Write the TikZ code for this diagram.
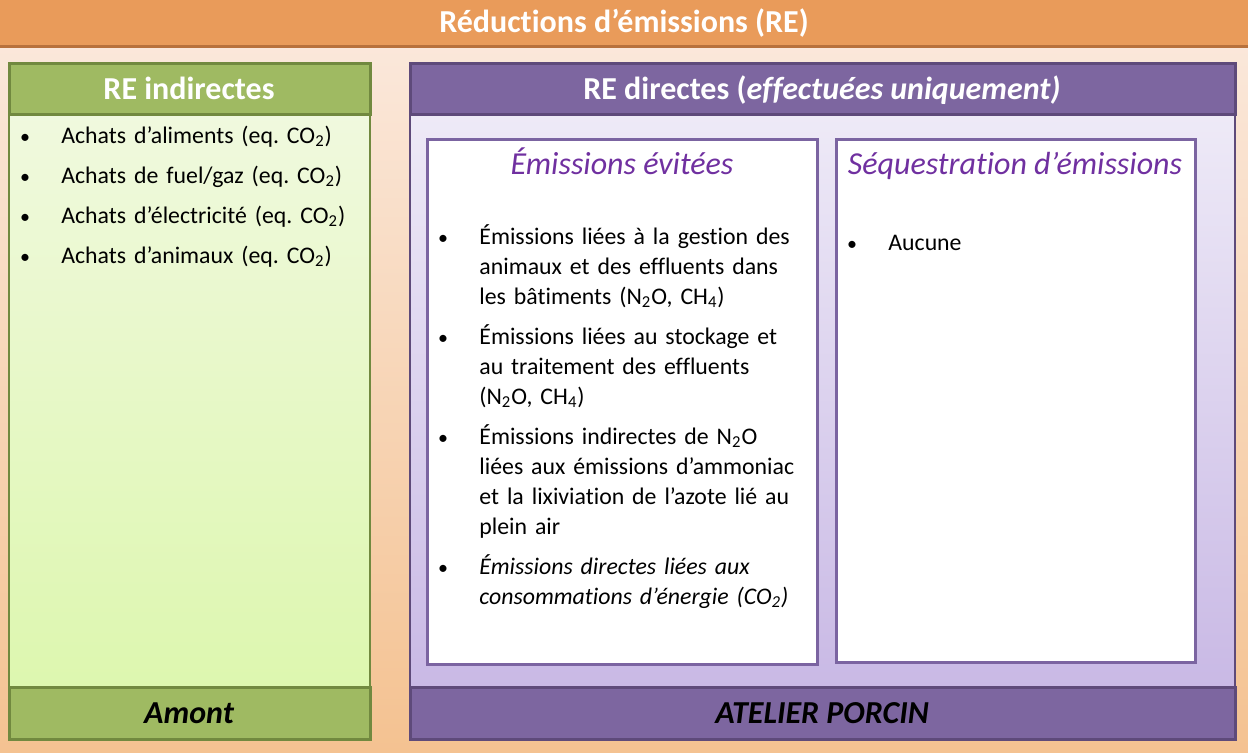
\documentclass[tikz,border=0pt]{standalone}
\usepackage{fontspec}
\setmainfont{Carlito}[Ligatures={NoCommon}]
\frenchspacing

\definecolor{fondhaut}{HTML}{FBEADF}
\definecolor{fondbas}{HTML}{F4C291}
\definecolor{orangehd}{HTML}{E99B5A}
\definecolor{orangeln}{HTML}{B8713C}
\definecolor{vert}{HTML}{9FBA62}
\definecolor{vertln}{HTML}{71893F}
\definecolor{verthaut}{HTML}{F0F9DE}
\definecolor{vertbas}{HTML}{DDF7AF}
\definecolor{violet}{HTML}{7D66A0}
\definecolor{violetln}{HTML}{5E4A7A}
\definecolor{lavhaut}{HTML}{EEEAF7}
\definecolor{lavbas}{HTML}{C9B9E5}
\definecolor{cadre}{HTML}{7B64A1}
\definecolor{titreviolet}{HTML}{7030A0}

\begin{document}
\begin{tikzpicture}[x=0.5pt,y=-0.5pt,
  every node/.style={inner sep=0pt},
  titre/.style={font=\bfseries\fontsize{16}{18}\selectfont,text=white,anchor=base},
  pied/.style={font=\bfseries\itshape\fontsize{16}{18}\selectfont,anchor=base},
  soustitre/.style={font=\itshape\fontsize{16}{18}\selectfont,text=titreviolet,anchor=base},
  puce/.style={font=\fontsize{10}{15}\selectfont,anchor=base},
  item/.style={font=\fontsize{11.9}{15}\selectfont,anchor=base west,text width=200pt,align=left}]
  \useasboundingbox (0,0) rectangle (1248,752);

  % fond et bandeau
  \shade[top color=fondhaut,bottom color=fondbas] (0,0) rectangle (1248,752);
  \fill[orangehd] (0,0) rectangle (1248,46);
  \draw[orangeln,line width=1.5pt] (0,46) -- (1248,46);
  \node[titre] (re) at (624,32) {Réductions d’émissions (RE)};

  % amont
  \shade[top color=verthaut,bottom color=vertbas] (9,114) rectangle (370,687);
  \draw[vertln,line width=1pt] (9,114) rectangle (370,687);
  \filldraw[fill=vert,draw=vertln,line width=1.5pt] (9,63) rectangle (370,114);
  \filldraw[fill=vert,draw=vertln,line width=1.5pt] (9,687) rectangle (370,739);
  \node[titre] (indir) at (189,99) {RE indirectes};
  \node[pied] (amont) at (189,723) {Amont};

  \node[puce] (p1) at (25,143) {•};
  \node[puce] (p2) at (25,183) {•};
  \node[puce] (p3) at (25,223) {•};
  \node[puce] (p4) at (25,263) {•};
  \node[item] (aliments) at (61,143) {Achats d’aliments (eq. CO\textsubscript{2})};
  \node[item] (fuel) at (61,183) {Achats de fuel/gaz (eq. CO\textsubscript{2})};
  \node[item] (elec) at (61,223) {Achats d’électricité (eq. CO\textsubscript{2})};
  \node[item] (animaux) at (61,263) {Achats d’animaux (eq. CO\textsubscript{2})};

  % atelier
  \shade[top color=lavhaut,bottom color=lavbas] (410,114) rectangle (1235,687);
  \draw[violetln,line width=1pt] (410,114) rectangle (1235,687);
  \filldraw[fill=violet,draw=violetln,line width=1.5pt] (410,63) rectangle (1235,114);
  \filldraw[fill=violet,draw=violetln,line width=1.5pt] (410,687) rectangle (1235,739);
  \node[titre] (dir) at (822,99) {RE directes (\textit{effectuées uniquement)}};
  \node[pied] (porcin) at (822,723) {ATELIER PORCIN};

  \filldraw[fill=white,draw=cadre,line width=1.5pt] (427,139) rectangle (817,664);
  \filldraw[fill=white,draw=cadre,line width=1.5pt] (836,139) rectangle (1195,662);
  \node[soustitre] (evitees) at (622,174) {Émissions évitées};
  \node[soustitre] (sequest) at (1015,174) {Séquestration d’émissions};

  \node[puce] (q1) at (443,244) {•};
  \node[puce] (q2) at (443,344) {•};
  \node[puce] (q3) at (443,444) {•};
  \node[puce] (q4) at (443,574) {•};
  \node[item] (gestion) at (479,244) {Émissions liées à la gestion des\\animaux et des effluents dans\\les bâtiments (N\textsubscript{2}O, CH\textsubscript{4})};
  \node[item] (stockage) at (479,344) {Émissions liées au stockage et\\au traitement des effluents\\(N\textsubscript{2}O, CH\textsubscript{4})};
  \node[item] (indirN) at (479,444) {Émissions indirectes de N\textsubscript{2}O\\liées aux émissions d’ammoniac\\et la lixiviation de l’azote lié au\\plein air};
  \node[item,font=\itshape\fontsize{11.9}{15}\selectfont] (energie) at (479,574) {Émissions directes liées aux\\consommations d’énergie (CO\textsubscript{2})};

  \node[puce] (r1) at (852,250) {•};
  \node[item] (aucune) at (888,250) {Aucune};
\end{tikzpicture}
\end{document}
